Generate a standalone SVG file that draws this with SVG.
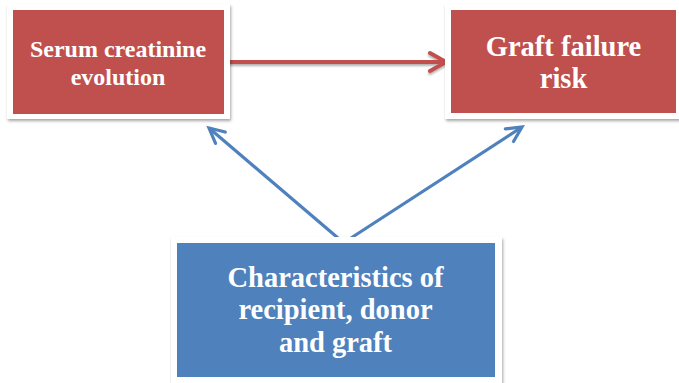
<svg xmlns="http://www.w3.org/2000/svg" width="679" height="383" viewBox="0 0 679 383">
  <defs>
    <filter id="sh" x="-10%" y="-10%" width="120%" height="130%">
      <feDropShadow dx="1" dy="2" stdDeviation="1.5" flood-color="#000" flood-opacity="0.35"/>
    </filter>
    <filter id="lsh" filterUnits="userSpaceOnUse" x="200" y="40" width="270" height="45">
      <feDropShadow dx="0" dy="2" stdDeviation="1" flood-color="#000" flood-opacity="0.3"/>
    </filter>
    <marker id="ahRed" markerUnits="userSpaceOnUse" viewBox="-20 -12 24 24" refX="0" refY="0" markerWidth="24" markerHeight="24" orient="auto">
      <path d="M-16,-9 L0,0 L-16,9" fill="none" stroke="#C0504D" stroke-width="4" stroke-linecap="round" stroke-linejoin="miter"/>
    </marker>
    <marker id="ahBlue" markerUnits="userSpaceOnUse" viewBox="-20 -12 24 24" refX="0" refY="0" markerWidth="24" markerHeight="24" orient="auto">
      <path d="M-15,-7.5 L0,0 L-15,7.5" fill="none" stroke="#4F81BD" stroke-width="3.2" stroke-linecap="round" stroke-linejoin="miter"/>
    </marker>
  </defs>
  <style>
    .frame { fill: #ffffff; filter: url(#sh); }
    .red { fill: #C0504D; }
    .blue { fill: #4F81BD; }
    .t { font-family: "Liberation Serif", "Times New Roman", serif; font-weight: bold; fill: #ffffff; text-anchor: middle; }
    .conRed { stroke: #C0504D; stroke-width: 4; fill: none; }
    .conBlue { stroke: #4F81BD; stroke-width: 3.2; fill: none; }
  </style>

  <g id="connectors">
    <g filter="url(#lsh)">
      <line class="conRed" x1="227" y1="62" x2="446" y2="62" marker-end="url(#ahRed)"/>
    </g>
    <line class="conBlue" x1="338" y1="238" x2="209" y2="128" marker-end="url(#ahBlue)"/>
    <line class="conBlue" x1="351" y1="238" x2="522" y2="127" marker-end="url(#ahBlue)"/>
  </g>

  <g id="node-serum">
    <rect class="frame" x="7" y="4" width="223" height="115"/>
    <rect class="red" x="13" y="10" width="211" height="104"/>
    <text class="t" font-size="24" x="118" y="57">Serum creatinine</text>
    <text class="t" font-size="24" x="118" y="85">evolution</text>
  </g>

  <g id="node-graft">
    <rect class="frame" x="445" y="4" width="237" height="115"/>
    <rect class="red" x="451" y="10" width="225" height="103"/>
    <text class="t" font-size="28.5" x="563.5" y="56">Graft failure</text>
    <text class="t" font-size="28.5" x="563.5" y="88">risk</text>
  </g>

  <g id="node-characteristics">
    <rect class="frame" x="171" y="237" width="331" height="150"/>
    <rect class="blue" x="177" y="243" width="318" height="134"/>
    <text class="t" font-size="28.5" x="335.5" y="287">Characteristics of</text>
    <text class="t" font-size="28.5" x="335.5" y="319">recipient, donor</text>
    <text class="t" font-size="28.5" x="335.5" y="352">and graft</text>
  </g>
</svg>
